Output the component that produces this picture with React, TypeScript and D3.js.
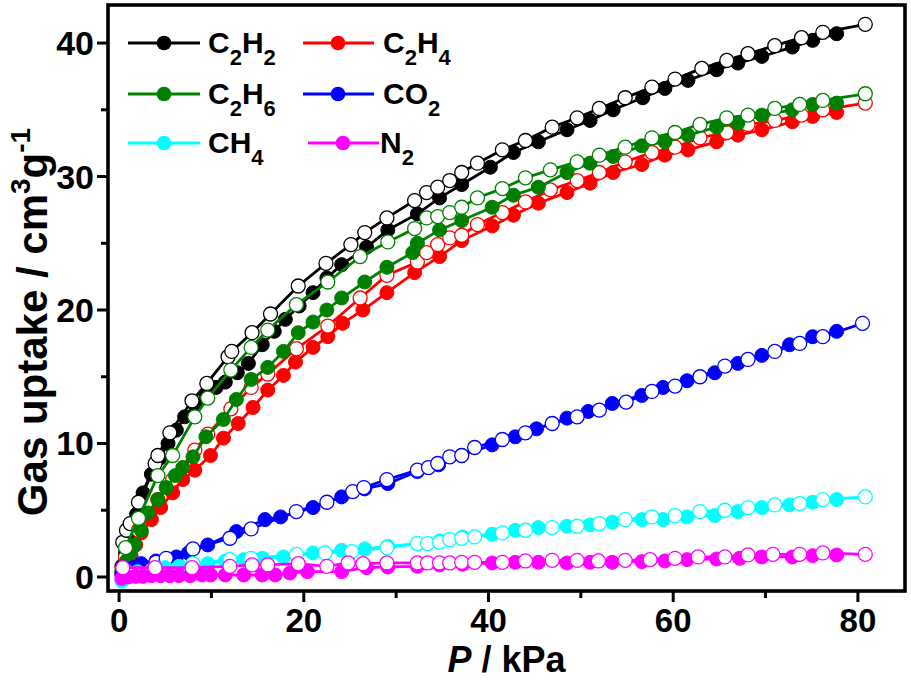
import React from 'react';
import * as d3 from 'd3';

type Pt = [number, number];

// ---- data: [pressure kPa, uptake cm3/g] ----
const C2H2_ads: Pt[] = [[0.3,0.8],[0.7,1.8],[1.2,3.0],[1.9,4.7],[2.6,6.3],[3.5,7.7],[4.4,8.9],[5.3,10.0],[6.2,11.0],[7.1,12.0],[8.2,12.9],[9.4,13.7],[10.5,14.2],[11.5,14.6],[12.8,15.3],[14.0,16.0],[15.5,17.4],[16.8,18.4],[18.0,19.3],[19.5,20.3],[21.0,21.3],[22.5,22.4],[24.1,23.4],[26.8,24.7],[29.1,26.0],[32.3,27.2],[34.7,28.4],[37.1,29.4],[40.2,30.7],[42.7,31.8],[45.4,32.6],[48.5,33.5],[51.0,34.2],[53.5,35.0],[56.7,35.9],[59.1,36.6],[61.6,37.2],[64.7,38.0],[67.0,38.5],[69.6,39.0],[72.9,39.7],[75.1,40.2],[77.7,40.7]];
const C2H2_des: Pt[] = [[0.4,2.6],[0.8,3.5],[1.2,4.0],[2.1,5.6],[3.9,8.5],[4.2,9.1],[5.5,10.8],[7.9,13.2],[9.5,14.5],[11.8,16.5],[12.2,16.9],[14.4,18.3],[16.4,19.7],[19.4,21.8],[22.4,23.5],[25.1,24.9],[26.6,25.8],[29.0,26.9],[32.0,28.2],[33.3,28.8],[34.5,29.2],[35.8,29.7],[37.1,30.3],[38.8,31.0],[41.5,32.0],[44.0,32.7],[46.9,33.7],[49.6,34.4],[52.0,35.1],[54.8,35.9],[57.7,36.7],[60.2,37.3],[63.1,38.1],[65.8,38.7],[68.1,39.2],[71.0,39.8],[73.9,40.4],[76.2,40.8],[80.8,41.4]];

const C2H4_ads: Pt[] = [[0.3,0.3],[0.8,0.9],[1.3,1.6],[1.8,2.4],[2.4,3.3],[3.5,4.3],[4.5,5.2],[5.8,6.3],[6.9,7.3],[8.2,8.0],[9.9,9.1],[11.3,10.4],[12.9,11.5],[14.5,12.7],[16.1,14.0],[17.8,15.1],[19.1,16.1],[21.0,17.2],[22.6,18.0],[24.2,19.0],[26.4,20.0],[29.0,21.3],[32.0,22.8],[34.7,24.0],[37.1,25.2],[40.4,26.3],[42.7,27.1],[45.4,28.0],[48.5,28.8],[51.0,29.5],[53.5,30.3],[56.6,30.9],[59.1,31.6],[61.6,32.0],[64.7,32.6],[67.0,33.1],[69.6,33.5],[72.9,34.1],[75.1,34.5],[77.7,34.8]];
const C2H4_des: Pt[] = [[0.7,1.5],[2.1,3.5],[4.2,5.8],[5.8,7.3],[8.2,9.5],[9.6,10.7],[12.1,12.6],[14.3,14.2],[16.1,15.2],[19.2,17.1],[22.6,18.8],[26.1,20.9],[29.0,22.6],[32.3,23.6],[33.3,24.3],[34.5,24.9],[35.8,25.4],[37.1,25.6],[38.8,26.4],[41.5,27.3],[44.0,28.1],[46.7,29.0],[49.6,29.7],[52.0,30.3],[54.8,31.1],[57.7,31.8],[60.2,32.2],[62.9,32.9],[65.8,33.3],[68.1,33.9],[71.0,34.2],[73.9,34.6],[76.2,35.0],[80.8,35.5]];

const C2H6_ads: Pt[] = [[0.3,0.5],[0.8,1.2],[1.2,1.8],[1.7,2.4],[2.4,3.5],[3.1,4.8],[4.2,5.8],[5.1,6.7],[6.1,7.6],[6.9,8.2],[8.0,9.0],[9.4,10.5],[11.3,11.8],[12.7,13.3],[14.3,14.8],[16.1,15.7],[17.8,16.9],[19.4,18.3],[21.0,19.1],[22.5,20.0],[24.1,20.9],[26.6,22.1],[29.0,23.2],[31.8,24.3],[32.3,25.0],[34.7,26.0],[37.1,26.7],[40.4,27.7],[42.7,28.6],[45.4,29.2],[48.5,30.3],[51.0,31.0],[53.5,31.5],[56.6,32.3],[59.1,32.6],[61.6,33.1],[64.7,33.7],[67.0,34.0],[69.6,34.6],[72.9,35.0],[75.1,35.4],[77.7,35.5]];
const C2H6_des: Pt[] = [[0.7,2.2],[2.1,4.4],[4.2,7.6],[5.8,9.1],[8.2,12.0],[9.6,13.4],[12.1,15.5],[14.3,17.2],[16.1,18.5],[19.2,20.4],[22.6,22.1],[26.1,24.0],[29.1,25.1],[32.0,26.1],[33.3,26.9],[34.5,27.0],[35.8,27.3],[37.1,27.7],[38.8,28.4],[41.5,29.1],[44.0,29.9],[46.7,30.5],[49.6,31.1],[52.0,31.6],[54.8,32.2],[57.7,32.9],[60.2,33.3],[62.9,33.9],[65.8,34.4],[68.1,34.6],[71.0,35.1],[73.7,35.4],[76.2,35.7],[80.8,36.2]];

const CO2_ads: Pt[] = [[0.3,0.2],[1.0,0.5],[1.5,0.7],[2.4,1.0],[4.0,1.2],[6.2,1.5],[7.5,1.8],[9.6,2.4],[12.7,3.4],[15.8,4.3],[17.5,4.5],[21.0,5.2],[24.1,6.0],[26.6,6.6],[29.1,7.0],[32.3,7.9],[34.6,8.4],[37.1,9.1],[40.4,9.9],[42.9,10.5],[45.2,11.1],[48.5,11.9],[50.8,12.4],[53.4,13.0],[56.6,13.6],[58.9,14.2],[61.5,14.7],[64.5,15.3],[67.0,16.0],[69.6,16.6],[72.6,17.4],[75.1,18.0],[77.7,18.4]];
const CO2_des: Pt[] = [[0.5,0.6],[4.0,1.1],[5.1,1.4],[8.0,2.1],[12.0,2.9],[14.3,3.6],[19.2,4.9],[22.5,5.6],[25.3,6.4],[26.5,6.7],[29.0,7.3],[32.3,8.0],[33.5,8.2],[34.5,8.5],[35.8,9.0],[37.1,9.1],[38.5,9.7],[41.5,10.3],[44.0,10.8],[46.9,11.5],[49.6,12.0],[52.0,12.5],[54.9,13.1],[57.7,13.9],[60.2,14.3],[62.9,15.0],[65.6,15.8],[68.1,16.3],[71.0,16.9],[73.7,17.5],[76.2,18.0],[80.5,19.0]];

const CH4_ads: Pt[] = [[0.3,-0.3],[1.0,0.2],[2.0,0.4],[3.5,0.5],[5.0,0.7],[6.5,0.8],[8.0,0.9],[9.6,1.0],[11.5,1.2],[13.5,1.3],[15.5,1.4],[17.8,1.5],[21.0,1.8],[24.1,2.0],[26.6,2.1],[29.1,2.3],[32.3,2.5],[34.7,2.7],[37.2,3.0],[40.4,3.2],[42.9,3.5],[45.4,3.7],[48.5,3.8],[51.0,3.9],[53.4,4.1],[56.6,4.3],[58.9,4.3],[61.5,4.5],[64.5,4.6],[67.0,4.9],[69.6,5.2],[72.6,5.4],[75.1,5.6],[77.7,5.8]];
const CH4_des: Pt[] = [[0.8,0.4],[4.0,0.7],[8.0,1.0],[12.0,1.3],[14.3,1.4],[19.2,1.7],[22.3,1.8],[25.2,1.9],[29.0,2.2],[32.3,2.5],[33.4,2.5],[34.7,2.6],[35.8,2.8],[37.1,2.9],[38.5,3.0],[41.5,3.3],[44.0,3.5],[46.9,3.7],[49.6,3.8],[52.0,4.0],[54.8,4.3],[57.7,4.5],[60.2,4.6],[62.9,4.9],[65.6,5.0],[68.1,5.2],[71.0,5.4],[73.7,5.5],[76.2,5.8],[80.8,6.0]];

const N2_ads: Pt[] = [[0.3,-0.1],[1.0,0.0],[1.8,0.05],[2.6,0.05],[3.5,0.1],[4.5,0.1],[5.5,0.1],[6.5,0.1],[7.7,0.1],[9.0,0.15],[9.9,0.15],[11.5,0.15],[13.5,0.15],[15.5,0.15],[16.9,0.15],[18.5,0.3],[20.4,0.4],[24.1,0.4],[26.8,0.7],[29.1,0.75],[32.3,0.8],[34.7,0.9],[37.2,0.95],[40.4,1.05],[42.9,1.1],[45.4,1.1],[48.5,1.05],[51.0,1.1],[53.4,1.1],[56.6,1.15],[59.1,1.2],[61.5,1.3],[64.7,1.35],[67.2,1.4],[69.6,1.5],[72.9,1.5],[75.1,1.6],[77.7,1.65]];
const N2_des: Pt[] = [[0.4,0.7],[3.9,0.7],[7.9,0.7],[12.0,0.8],[14.4,0.9],[16.1,0.9],[19.4,1.0],[22.5,0.8],[24.8,1.05],[26.4,1.0],[29.0,1.05],[32.3,1.05],[33.4,1.05],[34.7,1.05],[35.8,1.05],[37.1,1.1],[38.5,1.1],[41.5,1.1],[44.0,1.2],[46.9,1.25],[49.6,1.25],[51.9,1.2],[54.8,1.25],[57.5,1.3],[60.2,1.4],[62.7,1.5],[65.6,1.5],[68.1,1.65],[70.8,1.7],[73.7,1.7],[76.2,1.8],[80.8,1.7]];

const xMajorTicks = [0, 20, 40, 60, 80];
const xMinorTicks = [10, 30, 50, 70];
const yMajorTicks = [0, 10, 20, 30, 40];
const yMinorTicks = [5, 15, 25, 35];

type Part = [string, boolean];
const SERIES = [
  { key: 'C2H2', color: '#000000', ads: C2H2_ads, des: C2H2_des, label: [['C', false], ['2', true], ['H', false], ['2', true]] as Part[] },
  { key: 'C2H4', color: '#ff0000', ads: C2H4_ads, des: C2H4_des, label: [['C', false], ['2', true], ['H', false], ['4', true]] as Part[] },
  { key: 'C2H6', color: '#008000', ads: C2H6_ads, des: C2H6_des, label: [['C', false], ['2', true], ['H', false], ['6', true]] as Part[] },
  { key: 'CO2', color: '#0000ff', ads: CO2_ads, des: CO2_des, label: [['CO', false], ['2', true]] as Part[] },
  { key: 'CH4', color: '#00ffff', ads: CH4_ads, des: CH4_des, label: [['CH', false], ['4', true]] as Part[] },
  { key: 'N2', color: '#ff00ff', ads: N2_ads, des: N2_des, label: [['N', false], ['2', true]] as Part[] },
];

const LEGEND_POS: Record<string, { x1: number; x2: number; m: number; tx: number; y: number }> = {
  C2H2: { x1: 128, x2: 200, m: 164, tx: 208, y: 43 },
  C2H4: { x1: 303, x2: 374, m: 338, tx: 383, y: 43 },
  C2H6: { x1: 128, x2: 200, m: 164, tx: 208, y: 94 },
  CO2: { x1: 303, x2: 374, m: 338, tx: 383, y: 94 },
  CH4: { x1: 128, x2: 200, m: 164, tx: 208, y: 143 },
  N2: { x1: 308, x2: 379, m: 343, tx: 380, y: 143 },
};

const FONT = "'Liberation Sans', Arial, Helvetica, sans-serif";

export default function App() {
  const W = 911, H = 680;
  const L = 108, R = 905, T = 5, B = 591;
  const x = d3.scaleLinear().domain([-1.2, 85.1]).range([L, R]);
  const y = d3.scaleLinear().domain([-1.05, 42.85]).range([B, T]);
  const line = d3.line<Pt>().x(d => x(d[0])).y(d => y(d[1]));
  const r = 7;

  return (
    <svg width={W} height={H} style={{ position: 'absolute', left: 0, top: 0, background: '#fff' }} fontFamily={FONT}>
      <rect x={0} y={0} width={W} height={H} fill="#fff" />
      {SERIES.map(s => (
        <g key={s.key}>
          <path d={line(s.ads) || ''} fill="none" stroke={s.color} strokeWidth={2.8} />
          {s.ads.map((d, i) => (
            <circle key={'a' + i} cx={x(d[0])} cy={y(d[1])} r={r} fill={s.color} stroke={s.color} strokeWidth={1} />
          ))}
          <path d={line(s.des) || ''} fill="none" stroke={s.color} strokeWidth={2.8} />
          {s.des.map((d, i) => (
            <circle key={'d' + i} cx={x(d[0])} cy={y(d[1])} r={r} fill="#fff" stroke={s.color} strokeWidth={1.3} />
          ))}
        </g>
      ))}
      <rect x={L} y={T} width={R - L} height={B - T} fill="none" stroke="#000" strokeWidth={3.6} />
      {xMajorTicks.map(t => (
        <g key={'xm' + t}>
          <line x1={x(t)} x2={x(t)} y1={B} y2={B + 11} stroke="#000" strokeWidth={3} />
          <text x={x(t)} y={632} textAnchor="middle" fontSize={33} fontWeight="bold">{t}</text>
        </g>
      ))}
      {xMinorTicks.map(t => (
        <line key={'xn' + t} x1={x(t)} x2={x(t)} y1={B} y2={B + 7} stroke="#000" strokeWidth={3} />
      ))}
      {yMajorTicks.map(t => (
        <g key={'ym' + t}>
          <line x1={L} x2={L - 11} y1={y(t)} y2={y(t)} stroke="#000" strokeWidth={3} />
          <text x={94} y={y(t) + 12} textAnchor="end" fontSize={34} fontWeight="bold">{t}</text>
        </g>
      ))}
      {yMinorTicks.map(t => (
        <line key={'yn' + t} x1={L} x2={L - 7} y1={y(t)} y2={y(t)} stroke="#000" strokeWidth={3} />
      ))}
      <text x={(L + R) / 2} y={672} textAnchor="middle" fontSize={36} fontWeight="bold">
        <tspan fontStyle="italic">P</tspan>
        <tspan> / kPa</tspan>
      </text>
      <text transform={`translate(47, 322) rotate(-90)`} textAnchor="middle" fontSize={42} fontWeight="bold">
        <tspan>Gas uptake / cm</tspan>
        <tspan fontSize={28} dy={-17}>3</tspan>
        <tspan dy={17}>g</tspan>
        <tspan fontSize={28} dy={-17}>-1</tspan>
      </text>
      {SERIES.map(s => {
        const p = LEGEND_POS[s.key];
        let dyAcc = 0;
        return (
          <g key={'lg' + s.key}>
            <line x1={p.x1} x2={p.x2} y1={p.y} y2={p.y} stroke={s.color} strokeWidth={3.2} />
            <circle cx={p.m} cy={p.y} r={7.3} fill={s.color} />
            <text x={p.tx} y={p.y + 10} fontSize={30} fontWeight="bold">
              {s.label.map((pt, i) => {
                const target = pt[1] ? 12 : 0;
                const dy = target - dyAcc;
                dyAcc = target;
                return (
                  <tspan key={i} dy={dy} fontSize={pt[1] ? 22 : 30}>{pt[0]}</tspan>
                );
              })}
            </text>
          </g>
        );
      })}
    </svg>
  );
}
